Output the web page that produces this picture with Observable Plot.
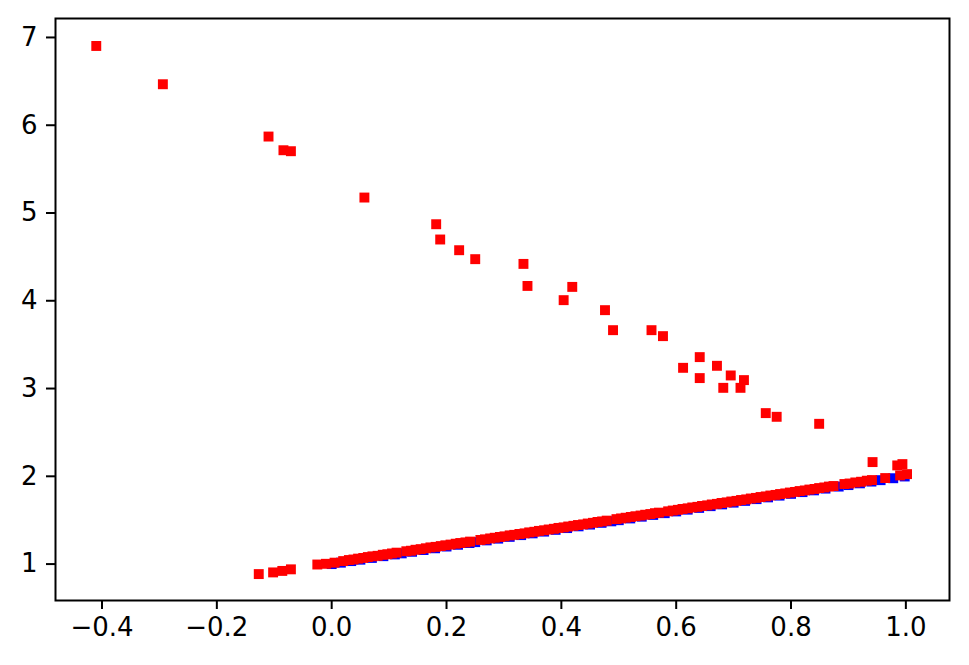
<!DOCTYPE html>
<html>
<head>
<meta charset="utf-8">
<script src="https://cdn.jsdelivr.net/npm/d3@7"></script>
<script src="https://cdn.jsdelivr.net/npm/@observablehq/plot@0.6"></script>
<style>
  html, body { margin: 0; padding: 0; background: #fff; }
  #chart svg { display: block; }
</style>
</head>
<body>
<div id="chart"></div>
<script>
// Blue series (underlying line)
const blueX = [0.000,0.016,0.034,0.050,0.070,0.090,0.110,0.122,0.140,0.160,0.180,0.200,0.220,0.240,0.250,0.270,0.290,0.310,0.330,0.350,0.370,0.390,0.410,0.430,0.450,0.470,0.487,0.500,0.520,0.540,0.560,0.580,0.600,0.620,0.640,0.660,0.680,0.700,0.720,0.740,0.760,0.780,0.800,0.820,0.840,0.860,0.883,0.900,0.920,0.940,0.956,0.978,0.998];
const blueY = [1.000,1.016,1.034,1.050,1.070,1.090,1.110,1.122,1.140,1.160,1.180,1.200,1.220,1.240,1.250,1.270,1.290,1.310,1.330,1.350,1.370,1.390,1.410,1.430,1.450,1.470,1.487,1.500,1.520,1.540,1.560,1.580,1.600,1.620,1.640,1.660,1.680,1.700,1.720,1.740,1.760,1.780,1.800,1.820,1.840,1.860,1.883,1.900,1.920,1.940,1.956,1.978,1.998];

// Red series: points along the line
const redLineX = [-0.127,-0.102,-0.086,-0.071,-0.025,-0.010,0.005,0.020,0.030,0.038,0.046,0.055,0.063,0.071,0.080,0.089,0.097,0.105,0.113,0.130,0.138,0.146,0.155,0.164,0.172,0.181,0.190,0.198,0.207,0.216,0.224,0.233,0.241,0.259,0.267,0.276,0.284,0.293,0.301,0.310,0.318,0.327,0.336,0.344,0.353,0.361,0.370,0.378,0.387,0.395,0.404,0.412,0.421,0.429,0.438,0.446,0.455,0.463,0.471,0.479,0.496,0.504,0.512,0.521,0.529,0.538,0.546,0.555,0.563,0.570,0.586,0.594,0.603,0.611,0.620,0.628,0.637,0.645,0.654,0.662,0.671,0.679,0.688,0.696,0.705,0.713,0.722,0.730,0.739,0.747,0.756,0.764,0.773,0.781,0.790,0.798,0.807,0.815,0.824,0.832,0.841,0.849,0.858,0.866,0.874,0.893,0.902,0.912,0.922,0.932,0.941,0.964,0.990,1.002];
const redLineY = [0.886,0.905,0.922,0.940,0.995,1.003,1.016,1.034,1.046,1.052,1.062,1.070,1.080,1.088,1.094,1.106,1.112,1.121,1.130,1.146,1.152,1.163,1.170,1.180,1.190,1.196,1.205,1.214,1.222,1.232,1.240,1.247,1.256,1.275,1.282,1.292,1.300,1.309,1.316,1.327,1.333,1.343,1.350,1.361,1.368,1.378,1.385,1.394,1.402,1.412,1.418,1.428,1.436,1.445,1.452,1.462,1.470,1.480,1.486,1.495,1.512,1.520,1.528,1.537,1.545,1.553,1.562,1.570,1.580,1.586,1.601,1.610,1.618,1.628,1.635,1.645,1.652,1.662,1.669,1.679,1.686,1.696,1.703,1.713,1.720,1.730,1.737,1.747,1.754,1.764,1.771,1.781,1.788,1.798,1.805,1.815,1.822,1.832,1.839,1.849,1.856,1.866,1.873,1.883,1.889,1.912,1.918,1.930,1.938,1.950,1.957,1.980,2.010,2.025];

// Red series: outliers
const redOutX = [-0.410,-0.294,-0.110,-0.084,-0.071,0.057,0.182,0.189,0.222,0.250,0.334,0.341,0.419,0.404,0.476,0.490,0.557,0.577,0.641,0.612,0.671,0.641,0.695,0.718,0.682,0.712,0.756,0.775,0.849,0.942,0.985,0.994];
const redOutY = [6.903,6.467,5.871,5.715,5.704,5.176,4.872,4.698,4.576,4.474,4.420,4.169,4.158,4.007,3.893,3.665,3.665,3.597,3.358,3.236,3.259,3.119,3.149,3.096,3.008,3.008,2.720,2.678,2.598,2.162,2.124,2.139];

// Tick values
const xTicks = [-0.4,-0.2,0.0,0.2,0.4,0.6,0.8,1.0];
const yTicks = [1,2,3,4,5,6,7];

const blue = blueX.map((x, i) => ({x, y: blueY[i]}));
const red = redLineX.map((x, i) => ({x, y: redLineY[i]}))
  .concat(redOutX.map((x, i) => ({x, y: redOutY[i]})));

const chart = Plot.plot({
  width: 969,
  height: 665,
  marginLeft: 55,
  marginRight: 20,
  marginTop: 18,
  marginBottom: 65,
  style: {fontFamily: "DejaVu Sans", fontSize: "26px", color: "#000", background: "#fff"},
  x: {domain: [-0.481, 1.076]},
  y: {domain: [0.585, 7.216]},
  marks: [
    Plot.dot(blue, {x: "x", y: "y", symbol: "square", r: 5.6, fill: "#0000ff", stroke: "none"}),
    Plot.dot(red, {x: "x", y: "y", symbol: "square", r: 5.6, fill: "#ff0000", stroke: "none"}),
    Plot.frame({stroke: "#000", strokeWidth: 2}),
    Plot.axisX({ticks: xTicks, tickFormat: d3.format(".1f"), tickSize: 9, tickPadding: 8, strokeWidth: 2, fontSize: 26, label: null}),
    Plot.axisY({ticks: yTicks, tickFormat: d3.format("d"), tickSize: 9, tickPadding: 9, strokeWidth: 2, fontSize: 26, label: null})
  ]
});
document.getElementById("chart").appendChild(chart);
</script>
</body>
</html>
